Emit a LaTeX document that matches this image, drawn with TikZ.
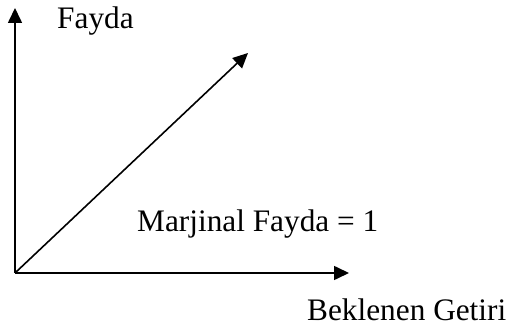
\documentclass[tikz,border=0pt]{standalone}
\usepackage{fontspec}
\setmainfont{Liberation Serif}
\usetikzlibrary{arrows.meta}
\begin{document}
\begin{tikzpicture}[x=1pt,y=-1pt,
  axis/.style={line width=1.6pt,-{Triangle[length=15pt,width=14pt]}},
  lbl/.style={anchor=base west,inner sep=0pt,font=\fontsize{31.3}{37}\selectfont}]
\useasboundingbox (0,0) rectangle (508,328);
\coordinate (o) at (15,273);
\coordinate (ytip) at (15,8);
\coordinate (xtip) at (349,273);
\coordinate (dtip) at (248,53);
\draw[axis] (o) -- (ytip);
\draw[axis] (o) -- (xtip);
\draw[axis] (o) -- (dtip);
\node[lbl] (fayda) at (57,29) {Fayda};
\node[lbl] (mf) at (137,232) {Marjinal Fayda = 1};
\node[lbl] (bg) at (307,320) {Beklenen Getiri};
\end{tikzpicture}
\end{document}
